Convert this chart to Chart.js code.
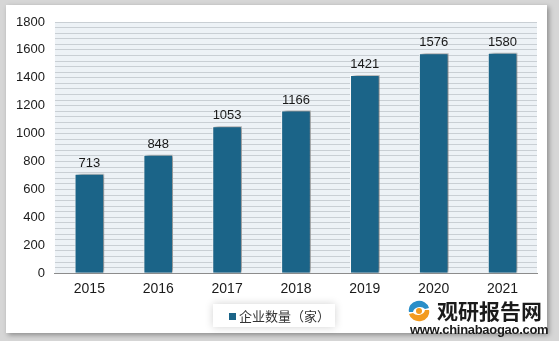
<!DOCTYPE html>
<html>
<head>
<meta charset="utf-8">
<script src="https://cdn.jsdelivr.net/npm/chart.js@4.4.1/dist/chart.umd.min.js"></script>
<style>
  html, body { margin: 0; padding: 0; }
  body { width: 559px; height: 341px; background: #d6d6d6; position: relative; overflow: hidden; font-family: Arial, "Liberation Sans", sans-serif; }
  #card { position: absolute; left: 6px; top: 5px; width: 541px; height: 328px; background: #fff; box-shadow: 2px 2px 5px rgba(0,0,0,0.35); }
  #wrap { position: absolute; left: 0; top: 0; width: 559px; height: 341px; }
  #legend { position: absolute; left: 213px; top: 304px; width: 122px; height: 23px; background: #fff; box-shadow: 0 0 8px rgba(0,0,0,0.18); font-size: 13px; color: #333; line-height: 23px; font-family: "Noto Sans CJK SC", sans-serif; }
  #legend i { display: inline-block; width: 7px; height: 7px; background: #1b6488; margin: 0 3px 0 16px; vertical-align: 1px; }
  #logo { position: absolute; left: 406px; top: 297px; width: 145px; height: 42px; }
  #logo .cn { position: absolute; left: 31px; top: 0; font-size: 21px; font-weight: bold; color: #1a1a1a; font-family: "Noto Sans CJK SC", sans-serif; line-height: 26px; }
  #logo .url { position: absolute; left: 4px; top: 26px; font-size: 13px; font-weight: bold; color: #1a1a1a; font-family: "Liberation Sans", Arial, sans-serif; letter-spacing: -0.3px; line-height: 14px; }
  #logo .icon { position: absolute; left: 0; top: 3px; width: 26px; height: 22px; }
</style>
</head>
<body>
<div id="card"></div>
<div id="wrap"><canvas id="chart" width="559" height="341"></canvas></div>
<div id="legend"><i></i><span id="legendText"></span></div>
<div id="logo">
  <svg class="icon" viewBox="0 0 26 22">
    <path d="M3 12 A10 9 0 0 1 23 8 L19 9 A7 6 0 0 0 7 12 Z" fill="#2a8fc9"/>
    <path d="M23 10 A10 9 0 0 1 3 14 L7 13 A7 6 0 0 0 19 10 Z" fill="#f29a1e"/>
    <circle cx="13" cy="11" r="3" fill="#f29a1e"/>
  </svg>
  <div class="cn">观研报告网</div>
  <div class="url">www.chinabaogao.com</div>
</div>
<script>
const years = ['2015', '2016', '2017', '2018', '2019', '2020', '2021'];
const companyCount = [713, 848, 1053, 1166, 1421, 1576, 1580];
const seriesName = '企业数量（家）';

document.getElementById('legendText').textContent = seriesName;

// plot background, bar shadow and value labels
const plotBg = {
  id: 'plotBg',
  beforeDraw(chart) {
    const a = chart.chartArea;
    const ctx = chart.ctx;
    ctx.save();
    ctx.fillStyle = '#edf2f6';
    ctx.fillRect(a.left, a.top, a.right - a.left, a.bottom - a.top);
    ctx.restore();
  },
  beforeDatasetDraw(chart) {
    const ctx = chart.ctx;
    ctx.save();
    ctx.shadowColor = 'rgba(0,0,0,0.45)';
    ctx.shadowBlur = 4;
    ctx.shadowOffsetX = 3;
    ctx.shadowOffsetY = -1;
  },
  afterDatasetDraw(chart) {
    chart.ctx.restore();
  },
  afterDatasetsDraw(chart) {
    const ctx = chart.ctx;
    const meta = chart.getDatasetMeta(0);
    ctx.save();
    ctx.font = '13px Arial, "Liberation Sans"';
    ctx.fillStyle = '#1a1a1a';
    ctx.textAlign = 'center';
    ctx.textBaseline = 'bottom';
    meta.data.forEach((bar, i) => {
      ctx.fillText(companyCount[i], bar.x, bar.y - 4);
    });
    ctx.restore();
  }
};

new Chart(document.getElementById('chart').getContext('2d'), {
  type: 'bar',
  data: {
    labels: years,
    datasets: [{
      label: seriesName,
      data: companyCount,
      backgroundColor: '#1b6488',
      borderColor: '#ffffff',
      borderWidth: 1,
      categoryPercentage: 1,
      barPercentage: 0.43
    }]
  },
  options: {
    responsive: false,
    animation: false,
    layout: { padding: { left: 6, right: 22, top: 22, bottom: 35 } },
    plugins: {
      legend: { display: false },
      tooltip: { enabled: false }
    },
    scales: {
      x: {
        grid: { display: false, drawTicks: false },
        border: { display: true, color: '#8c8c8c', width: 1 },
        ticks: { color: '#1a1a1a', font: { size: 14, family: 'Arial' }, padding: 8 }
      },
      y: {
        min: 0,
        max: 1800,
        grid: { color: '#c9cfd4', lineWidth: 1, drawTicks: false },
        border: { display: false },
        ticks: {
          stepSize: 40,
          autoSkip: false,
          maxTicksLimit: 100,
          padding: 10,
          color: '#1a1a1a',
          font: { size: 13, family: 'Arial' },
          callback: v => (v % 200 === 0 ? v : '')
        }
      }
    }
  },
  plugins: [plotBg]
});
</script>
</body>
</html>
